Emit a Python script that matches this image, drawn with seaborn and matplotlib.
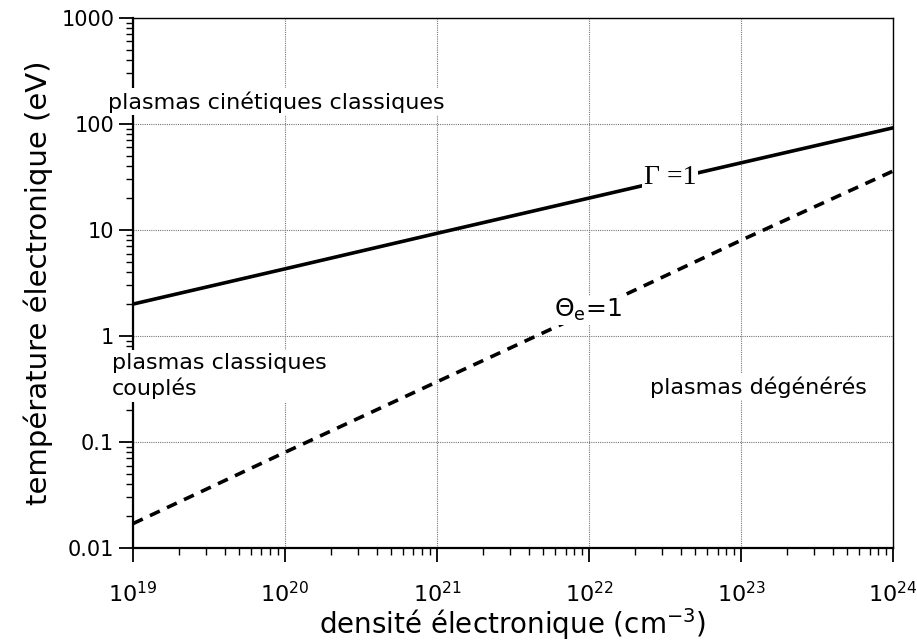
import numpy as np
import pandas as pd
import seaborn as sns
import matplotlib
matplotlib.use("Agg")
from matplotlib import pyplot as plt
from matplotlib.ticker import FixedLocator, LogLocator, NullFormatter

# densité (cm^-3) et températures
density = [1e19, 1e20, 1e21, 1e22, 1e23, 1e24]
temp_gamma = [2.0, 4.3, 9.3, 20.0, 43.0, 92.0]        # Gamma = 1
temp_theta = [0.017, 0.08, 0.37, 1.7, 8.0, 36.0]      # Theta_e = 1

y_ticks = [0.01, 0.1, 1, 10, 100, 1000]
y_ticklabels = ["0.01", "0.1", "1", "10", "100", "1000"]
x_ticks = [1e19, 1e20, 1e21, 1e22, 1e23, 1e24]
x_ticklabels = [r"$10^{19}$", r"$10^{20}$", r"$10^{21}$", r"$10^{22}$", r"$10^{23}$", r"$10^{24}$"]

df = pd.DataFrame({
    "n": density * 2,
    "T": temp_gamma + temp_theta,
    "courbe": ["Gamma"] * len(density) + ["Theta"] * len(density),
})

sns.set_style("white")
plt.rcParams["font.family"] = ["DejaVu Sans"]
plt.rcParams["mathtext.fontset"] = "dejavusans"
for k in ["text.color", "axes.labelcolor", "xtick.color", "ytick.color"]:
    plt.rcParams[k] = "black"

fig, ax = plt.subplots(figsize=(9.17, 6.41), dpi=100)
fig.subplots_adjust(left=0.145, right=0.974, top=0.972, bottom=0.145)

sns.lineplot(data=df, x="n", y="T", style="courbe", color="black",
             dashes={"Gamma": "", "Theta": (3, 2.2)}, linewidth=2.6,
             legend=False, ax=ax, zorder=3)

ax.set_xscale("log")
ax.set_yscale("log")
ax.set_xlim(1e19, 1e24)
ax.set_ylim(0.01, 1000)

ax.xaxis.set_major_locator(FixedLocator(x_ticks))
ax.set_xticklabels(x_ticklabels)
ax.yaxis.set_major_locator(FixedLocator(y_ticks))
ax.set_yticklabels(y_ticklabels)
ax.xaxis.set_minor_locator(LogLocator(base=10, subs=np.arange(2, 10), numticks=20))
ax.yaxis.set_minor_locator(LogLocator(base=10, subs=np.arange(2, 10), numticks=20))
ax.xaxis.set_minor_formatter(NullFormatter())
ax.yaxis.set_minor_formatter(NullFormatter())

ax.tick_params(axis="both", which="major", direction="out", length=10, width=1.3,
               labelsize=15, bottom=True, left=True)
ax.tick_params(axis="both", which="minor", direction="out", length=5, width=1.0,
               bottom=True, left=True)
ax.tick_params(axis="x", which="major", pad=14, labelsize=16)

ax.grid(True, which="major", linestyle=(0, (1, 1)), color="#777777", linewidth=0.8)
for s in ax.spines.values():
    s.set_color("black")
    s.set_linewidth(1.0)
ax.spines["left"].set_linewidth(1.6)
ax.spines["bottom"].set_linewidth(1.6)

ax.set_xlabel("densité électronique (cm$^{-3}$)", fontsize=20, labelpad=0)
ax.set_ylabel("température électronique (eV)", fontsize=21, labelpad=6)

box = dict(facecolor="white", edgecolor="none", pad=2)
ax.text(6.9e18, 162, "plasmas cinétiques classiques", fontsize=16, ha="left", va="center",
        bbox=box, zorder=5, clip_on=False)
ax.text(7.3e18, 0.42, "plasmas classiques\ncouplés", fontsize=16, ha="left", va="center",
        bbox=box, zorder=5, clip_on=False, linespacing=1.25)
ax.text(2.5e22, 0.33, "plasmas dégénérés", fontsize=16, ha="left", va="center",
        bbox=box, zorder=5)
ax.text(3.4e22, 31, "Γ =1", fontsize=20, ha="center", va="center",
        family=["Liberation Serif", "DejaVu Serif"],
        bbox=dict(facecolor="white", edgecolor="none", pad=1), zorder=5)
ax.text(9.8e21, 1.75, r"$\Theta_{\mathrm{e}}$=1", fontsize=18, ha="center", va="center",
        bbox=dict(facecolor="white", edgecolor="none", pad=1), zorder=5)

fig.savefig("out.png", dpi=100)
